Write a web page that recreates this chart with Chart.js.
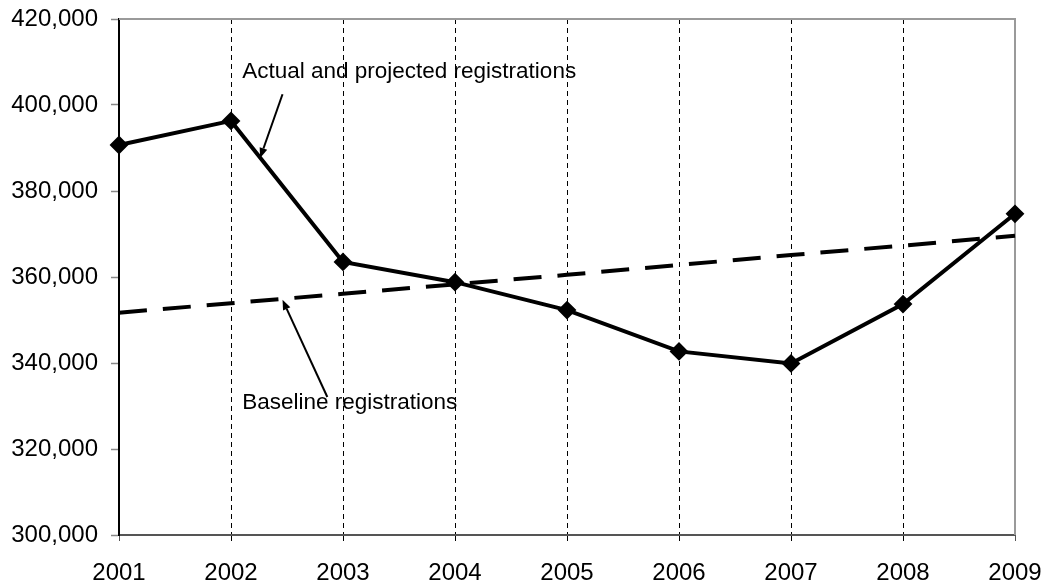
<!DOCTYPE html>
<html>
<head>
<meta charset="utf-8">
<script src="https://cdn.jsdelivr.net/npm/chart.js@4/dist/chart.umd.min.js"></script>
<style>
  html, body { margin: 0; padding: 0; background: #ffffff; }
  canvas { display: block; }
</style>
</head>
<body>
<canvas id="chart" width="1058" height="584"></canvas>
<script>
// Registration years and series
const years = ['2001', '2002', '2003', '2004', '2005', '2006', '2007', '2008', '2009'];
const actualRegistrations = [390700, 396300, 363500, 358800, 352300, 342700, 339900, 353700, 374700];
const baselineRegistrations = [351700, 353900, 356100, 358300, 360500, 362800, 365100, 367300, 369600];

// Axis range
const yMin = 300000;
const yMax = 420000;
const yStep = 20000;

// Callout labels: text anchor and arrow (tail -> head) in axis units (category index, value)
const calloutTexts = ['Actual and projected registrations', 'Baseline registrations'];
const calloutTextPos = [[1.10, 407700], [1.10, 330700]];
const calloutArrowTail = [[1.46, 402500], [1.86, 332100]];
const calloutArrowHead = [[1.26, 387700], [1.46, 354700]];

const FONT = '"Liberation Sans", Arial, sans-serif';

// Top and right frame edges of the plot area
const framePlugin = {
  id: 'frame',
  beforeDatasetsDraw(chart) {
    const { ctx, chartArea: a } = chart;
    ctx.save();
    ctx.strokeStyle = '#9a9a9a';
    ctx.lineWidth = 2;
    ctx.beginPath();
    ctx.moveTo(a.left, a.top);
    ctx.lineTo(a.right, a.top);
    ctx.lineTo(a.right, a.bottom);
    ctx.stroke();
    ctx.restore();
  }
};

// Text callouts with arrows pointing at the two lines
const calloutPlugin = {
  id: 'callouts',
  afterDatasetsDraw(chart) {
    const { ctx } = chart;
    const xs = chart.scales.x, ys = chart.scales.y;
    const px = p => [xs.getPixelForValue(p[0]), ys.getPixelForValue(p[1])];
    ctx.save();
    ctx.font = '22.5px ' + FONT;
    ctx.fillStyle = '#000';
    ctx.textBaseline = 'middle';
    ctx.textAlign = 'left';
    calloutTexts.forEach((t, i) => {
      const [tx, ty] = px(calloutTextPos[i]);
      ctx.fillText(t, tx, ty);
    });
    ctx.strokeStyle = '#000';
    ctx.lineWidth = 2;
    calloutTexts.forEach((t, i) => {
      const [x1, y1] = px(calloutArrowTail[i]);
      const [x2, y2] = px(calloutArrowHead[i]);
      const ang = Math.atan2(y2 - y1, x2 - x1);
      const len = 10, half = 4;
      const bx = x2 - Math.cos(ang) * len, by = y2 - Math.sin(ang) * len;
      ctx.beginPath();
      ctx.moveTo(x1, y1);
      ctx.lineTo(bx, by);
      ctx.stroke();
      ctx.beginPath();
      ctx.moveTo(x2, y2);
      ctx.lineTo(bx + Math.sin(ang) * half, by - Math.cos(ang) * half);
      ctx.lineTo(bx - Math.sin(ang) * half, by + Math.cos(ang) * half);
      ctx.closePath();
      ctx.fill();
    });
    ctx.restore();
  }
};

const lastIdx = years.length - 1;

new Chart(document.getElementById('chart'), {
  type: 'line',
  data: {
    labels: years,
    datasets: [
      {
        label: 'Baseline registrations',
        data: baselineRegistrations,
        borderColor: '#000',
        borderWidth: 4,
        borderDash: [28, 16],
        borderCapStyle: 'butt',
        pointRadius: 0,
        tension: 0,
        order: 2
      },
      {
        label: 'Actual and projected registrations',
        data: actualRegistrations,
        borderColor: '#000',
        backgroundColor: '#000',
        borderWidth: 4,
        pointStyle: 'rectRot',
        pointRadius: 8,
        pointBorderWidth: 2,
        pointBackgroundColor: '#000',
        pointBorderColor: '#000',
        tension: 0,
        order: 1
      }
    ]
  },
  options: {
    responsive: false,
    animation: false,
    devicePixelRatio: 1,
    layout: { padding: { top: 19, right: 43, left: 0, bottom: 0 } },
    plugins: {
      legend: { display: false },
      tooltip: { enabled: false }
    },
    scales: {
      x: {
        type: 'category',
        offset: false,
        afterFit(s) { s.height = 49; },
        border: { display: true, color: '#555', width: 2, dash: [5, 4] },
        grid: {
          display: true,
          drawOnChartArea: true,
          drawTicks: true,
          tickLength: 8,
          color: c => (c.index === 0 || c.index === lastIdx) ? 'rgba(0,0,0,0)' : '#000',
          lineWidth: 1,
          tickColor: c => (c.index === 0 || c.index === lastIdx) ? '#555' : '#000',
          tickWidth: 1,
          tickBorderDash: [5, 4]
        },
        ticks: {
          color: '#000',
          font: { family: FONT, size: 24 },
          padding: 16,
          maxRotation: 0,
          autoSkip: false
        }
      },
      y: {
        min: yMin,
        max: yMax,
        afterFit(s) { s.width = 119; s.paddingTop = 0; s.paddingBottom = 0; },
        border: { display: true, color: '#000', width: 2 },
        grid: {
          display: true,
          drawOnChartArea: false,
          drawTicks: true,
          tickLength: 8,
          tickColor: '#888',
          tickWidth: 1.5
        },
        ticks: {
          stepSize: yStep,
          color: '#000',
          font: { family: FONT, size: 24 },
          padding: 13,
          callback: v => v.toLocaleString('en-US')
        }
      }
    }
  },
  plugins: [framePlugin, calloutPlugin]
});
</script>
</body>
</html>
